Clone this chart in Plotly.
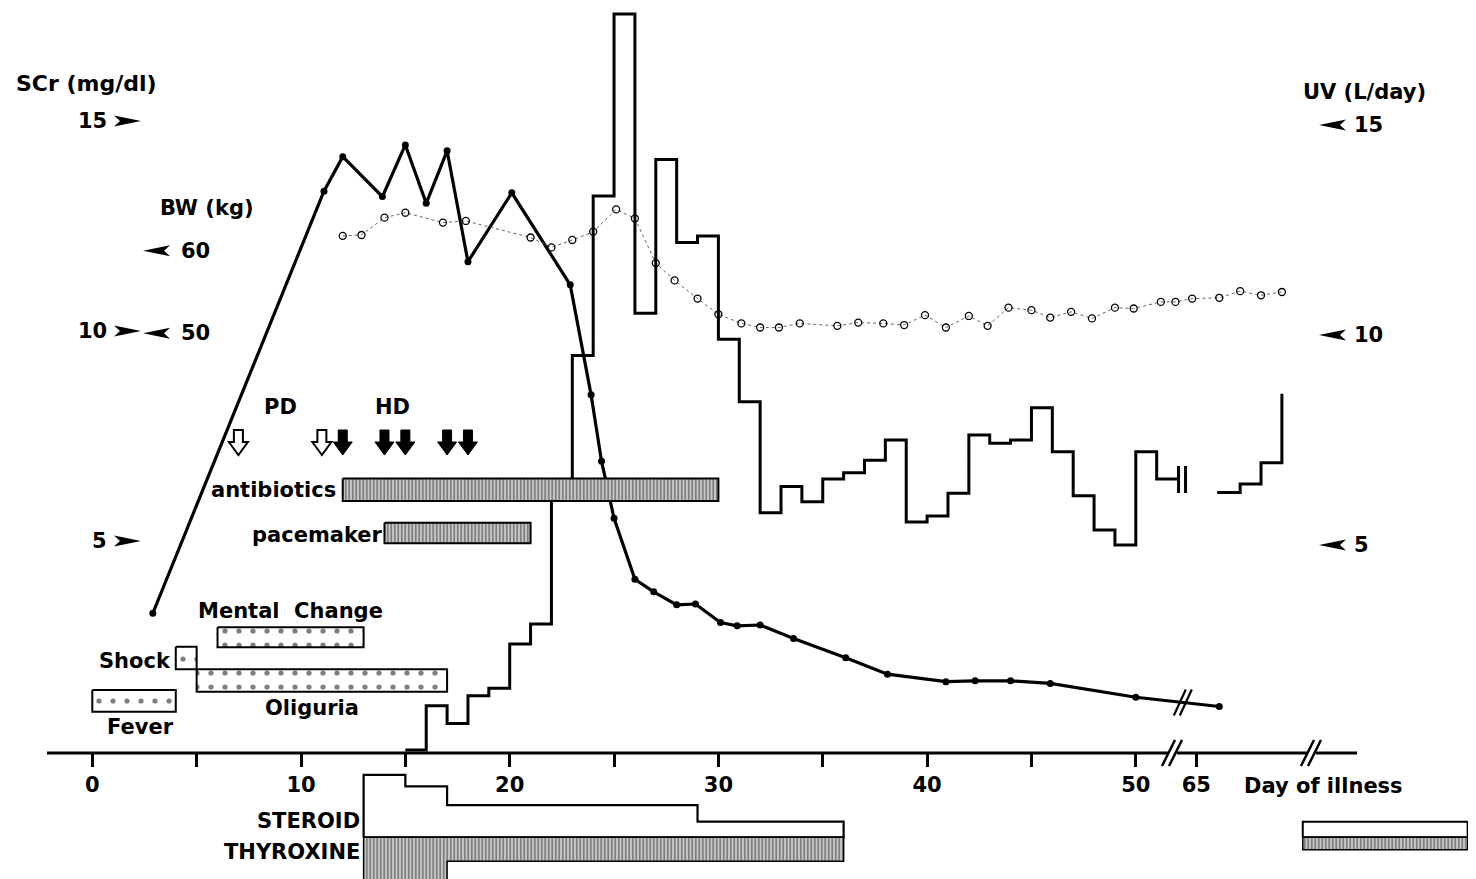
import plotly.graph_objects as go

# ------------------------------------------------------------------ data
# x values are days of illness as placed on the drawn (broken) day axis:
# positions right of the first break belong to the compressed "65" segment.
SCR_DAY = [2.9, 11.1, 12.0, 13.9, 15.0, 16.0, 17.0, 18.0, 20.1, 22.9,
           23.9, 24.4, 25.0, 26.0, 26.9, 28.0, 28.9, 30.1, 30.9, 32.0,
           33.6, 36.1, 38.1, 40.9, 42.3, 44.0, 45.9, 50.0, 54.0]
SCR = [3.28, 13.33, 14.15, 13.20, 14.43, 13.04, 14.29, 11.65, 13.29, 11.10,
       8.48, 6.90, 5.54, 4.09, 3.79, 3.48, 3.50, 3.06, 2.98, 3.00,
       2.68, 2.22, 1.83, 1.65, 1.67, 1.67, 1.61, 1.28, 1.06]

BW_DAY = [12.0, 12.9, 14.0, 15.0, 16.8, 17.9, 21.0, 22.0, 23.0, 24.0,
          25.1, 26.0, 27.0, 27.9, 29.0, 30.0, 31.1, 32.0, 32.9, 33.9,
          35.7, 36.7, 37.9, 38.9, 39.9, 40.9, 42.0, 42.9, 43.9, 45.0,
          45.9, 46.9, 47.9, 49.0, 49.9, 51.2, 51.9, 52.7, 54.0, 55.0,
          56.0, 57.0]
BW = [61.8, 61.9, 64.0, 64.6, 63.4, 63.6, 61.6, 60.4, 61.3, 62.3,
      65.0, 63.9, 58.5, 56.4, 54.2, 52.3, 51.2, 50.7, 50.7, 51.2,
      50.9, 51.3, 51.2, 51.0, 52.2, 50.7, 52.1, 50.9, 53.1, 52.8,
      51.9, 52.6, 51.8, 53.1, 53.0, 53.8, 53.8, 54.2, 54.3, 55.1,
      54.6, 55.0]

UV_DAY = [15, 16, 17, 18, 19, 20, 21, 22, 23, 24, 25, 26, 27, 28, 29, 30,
          31, 32, 33, 34, 35, 36, 37, 38, 39, 40, 41, 42, 43, 44, 45, 46,
          47, 48, 49, 50, 51, 52]
UV = [0.12, 1.17, 0.75, 1.41, 1.59, 2.64, 3.12, 6.43, 9.51, 13.31, 17.64,
      10.52, 14.18, 12.20, 12.36, 9.90, 8.41, 5.77, 6.39, 6.03, 6.57, 6.72,
      7.02, 7.50, 5.55, 5.69, 6.23, 7.62, 7.42, 7.50, 8.27, 7.22, 6.17,
      5.36, 5.00, 7.22, 6.57]
UV_LATE_DAY = [53.9, 55.0, 56.0, 57.0]
UV_LATE = [6.25, 6.45, 6.96, 8.60]

PD_DAYS = [7, 11]
HD_DAYS = [12, 14, 15, 17, 18]

FEVER = [0, 4]
SHOCK = [4, 5]
OLIGURIA = [5, 17]
MENTAL = [6, 13]
ANTIBIOTICS = [12, 30]
PACEMAKER = [14, 21]

STEROID_DAY = [13, 15, 17, 29, 36]
STEROID = [60, 49, 31, 15]
THYROXINE_DAY = [13, 17, 36]
THYROXINE = [50, 23]
LATE_RX_DAY = [58.0, 65.9]
LATE_STEROID = 15
LATE_THYROXINE = 12

X_TICKS = [0, 5, 10, 15, 20, 25, 30, 35, 40, 45, 50, 52.9]
X_TICK_TEXT = ['0', '', '10', '', '20', '', '30', '', '40', '', '50', '65']
SCR_TICKS = [5, 10, 15]
BW_TICKS = [50, 60]
UV_TICKS = [5, 10, 15]
AXIS_BREAKS = [51.83, 58.49]
SCR_BREAK = 52.3

# ------------------------------------------------------------------ geometry
# constants are screen pixels of the 1476x879 page; the page body has an
# 8 px margin, so the figure itself is 8 px smaller and offset by OFF.
OFF = 8
W, H = 1476 - OFF, 879 - OFF
FONT = "DejaVu Sans"
FS = 21
PX_DAY, X0 = 20.87, 92.3
AXIS_Y = 753
SCR0, SCR_PX = 751, 42.0
BW50, BW_PX = 333.3, 8.26
UV0, UV_PX = 755, 42.0
RX0, RX_PX = 837.3, 1.04


def px2day(sx):
    return (sx - X0) / PX_DAY


def py(sy):
    return 1 - (sy - OFF) / H


def px(sx):
    return (sx - OFF) / W


TOP, BOT = OFF, OFF + H
x_range = [px2day(OFF), px2day(OFF + W)]
scr_range = [(SCR0 - BOT) / SCR_PX, (SCR0 - TOP) / SCR_PX]
bw_range = [50 + (BW50 - BOT) / BW_PX, 50 + (BW50 - TOP) / BW_PX]
uv_range = [(UV0 - BOT) / UV_PX, (UV0 - TOP) / UV_PX]
rx_range = [(RX0 - BOT) / RX_PX, (RX0 - TOP) / RX_PX]

ROWS = {
    'antibiotics': (478.5, 501.0),
    'pacemaker': (522.7, 543.3),
    'mental': (627.3, 647.3),
    'shock': (646.7, 669.3),
    'oliguria': (669.3, 691.7),
    'fever': (690.0, 711.7),
}

HATCH = dict(shape='|', size=3.5, solidity=0.72, fgcolor='black', bgcolor='white')
STARS = dict(shape='.', size=14, solidity=0.11, fgcolor='black', bgcolor='white')

fig = go.Figure()


def poly(xs, ys, yaxis, pattern=None, lw=2.0):
    tr = go.Scatter(x=xs, y=ys, mode='lines', fill='toself', fillcolor='white',
                    line=dict(color='black', width=lw), yaxis=yaxis,
                    hoverinfo='skip', showlegend=False)
    if pattern:
        tr.fillpattern = pattern
    return tr


def box(span, row, yaxis, pattern, lw=2.0):
    y0, y1 = ROWS[row]
    x0, x1 = span
    return poly([x0, x1, x1, x0, x0], [y0, y0, y1, y1, y0], yaxis, pattern, lw)


# drug dose step blocks (below the axis)
sx, sy = [STEROID_DAY[0]], [0]
for i, v in enumerate(STEROID):
    sx += [STEROID_DAY[i], STEROID_DAY[i + 1]]
    sy += [v, v]
sx += [STEROID_DAY[-1], STEROID_DAY[0]]
sy += [0, 0]
fig.add_trace(poly(sx, sy, 'y4', None, 2.2))

tx, ty = [THYROXINE_DAY[0]], [0]
for i, v in enumerate(THYROXINE):
    tx += [THYROXINE_DAY[i], THYROXINE_DAY[i + 1]]
    ty += [-v, -v]
tx += [THYROXINE_DAY[-1], THYROXINE_DAY[0]]
ty += [0, 0]
fig.add_trace(poly(tx, ty, 'y4', HATCH, 1.5))

lx0, lx1 = LATE_RX_DAY
fig.add_trace(poly([lx0, lx1, lx1, lx0, lx0],
                   [0, 0, LATE_STEROID, LATE_STEROID, 0], 'y4', None, 2.0))
fig.add_trace(poly([lx0, lx1, lx1, lx0, lx0],
                   [0, 0, -LATE_THYROXINE, -LATE_THYROXINE, 0], 'y4', HATCH, 1.5))

# serum creatinine
fig.add_trace(go.Scatter(x=SCR_DAY, y=SCR, mode='lines+markers', yaxis='y',
                         line=dict(color='black', width=3.2),
                         marker=dict(size=7, color='black'),
                         hoverinfo='skip', showlegend=False))
# body weight
fig.add_trace(go.Scatter(x=BW_DAY, y=BW, mode='lines+markers', yaxis='y2',
                         line=dict(color='#666666', width=1, dash='dot'),
                         marker=dict(size=7, symbol='circle-open', color='black',
                                     line=dict(width=1.3, color='black')),
                         hoverinfo='skip', showlegend=False))
# urine volume
fig.add_trace(go.Scatter(x=UV_DAY, y=UV + [UV[-1]], mode='lines', line_shape='hv',
                         yaxis='y3', line=dict(color='black', width=3),
                         hoverinfo='skip', showlegend=False))
fig.add_trace(go.Scatter(x=UV_LATE_DAY, y=UV_LATE, mode='lines', line_shape='hv',
                         yaxis='y3', line=dict(color='black', width=3),
                         hoverinfo='skip', showlegend=False))

# clinical course bars
fig.add_trace(box(FEVER, 'fever', 'y5', STARS))
fig.add_trace(box(SHOCK, 'shock', 'y5', STARS))
fig.add_trace(box(OLIGURIA, 'oliguria', 'y5', STARS))
fig.add_trace(box(MENTAL, 'mental', 'y5', STARS))
fig.add_trace(box(ANTIBIOTICS, 'antibiotics', 'y5', HATCH))
fig.add_trace(box(PACEMAKER, 'pacemaker', 'y5', HATCH))

# ------------------------------------------------------------------ shapes
shapes = []


def pix_path(xref, xa, yref, ya, path, fill, lw=0.0, color='black'):
    return dict(type='path', xref=xref, yref=yref, xsizemode='pixel',
                ysizemode='pixel', xanchor=xa, yanchor=ya, path=path,
                fillcolor=fill, line=dict(color=color, width=lw), layer='above')


RIGHT_ARROW = 'M0,0 L-27,5.5 L-21,0 L-27,-5.5 Z'
LEFT_ARROW = 'M0,0 L27,5.5 L21,0 L27,-5.5 Z'
BLOCK_ARROW = 'M0,0 L-9.5,13 L-4.5,13 L-4.5,25 L4.5,25 L4.5,13 L9.5,13 Z'
SLASHES = 'M-12,-13 L1,13 M-5,-13 L8,13'

# day axis line
shapes.append(dict(type='line', xref='x', yref='paper', x0=px2day(47), x1=px2day(1357),
                   y0=py(AXIS_Y), y1=py(AXIS_Y), line=dict(color='black', width=3)))
for b in AXIS_BREAKS:
    shapes.append(dict(type='rect', xref='x', yref='paper', xsizemode='pixel',
                       ysizemode='pixel', xanchor=b, yanchor=py(AXIS_Y),
                       x0=-5, x1=3, y0=-3, y1=3, fillcolor='white',
                       line=dict(width=0), layer='above'))
    shapes.append(pix_path('x', b, 'paper', py(AXIS_Y), SLASHES, 'rgba(0,0,0,0)', 2.5))
# break on the SCr line
scr_b = SCR[-2] + (SCR[-1] - SCR[-2]) * (SCR_BREAK - SCR_DAY[-2]) / (SCR_DAY[-1] - SCR_DAY[-2])
shapes.append(pix_path('x', SCR_BREAK, 'y', scr_b, 'M-10,-13 L2,13 M-4,-13 L8,13',
                       'rgba(0,0,0,0)', 2.2))
# end marks of the UV record
shapes.append(pix_path('x', UV_DAY[-1], 'y3', UV[-1], 'M1,-14 L1,13 M8,-14 L8,13',
                       'rgba(0,0,0,0)', 3))

# scale arrows
for v in SCR_TICKS:
    shapes.append(pix_path('paper', px(141), 'y', v, RIGHT_ARROW, 'black'))
for v in BW_TICKS:
    shapes.append(pix_path('paper', px(143), 'y2', v, LEFT_ARROW, 'black'))
for v in UV_TICKS:
    shapes.append(pix_path('paper', px(1319), 'y3', v, LEFT_ARROW, 'black'))

# dialysis arrows
for d in PD_DAYS:
    shapes.append(pix_path('x', d, 'paper', py(455), BLOCK_ARROW, 'white', 2.0))
for d in HD_DAYS:
    shapes.append(pix_path('x', d, 'paper', py(455), BLOCK_ARROW, 'black', 1.0))

# ------------------------------------------------------------------ text
ann = []


def text(t, x, y, xref='paper', yref='paper', xanchor='center', xshift=0, size=FS):
    ann.append(dict(text=t, x=x, y=y, xref=xref, yref=yref, xanchor=xanchor,
                    yanchor='middle', showarrow=False, xshift=xshift,
                    font=dict(family=FONT, size=size, color='black', weight='bold')))


text('SCr (mg/dl)', px(86), py(84), size=22)
text('BW (kg)', px(207), py(208))
text('UV (L/day)', px(1364), py(92))
for v in SCR_TICKS:
    text(str(v), px(109), v, yref='y', xanchor='right')
for v in BW_TICKS:
    text(str(v), px(179), v, yref='y2', xanchor='left')
for v in UV_TICKS:
    text(str(v), px(1352), v, yref='y3', xanchor='left')

text('PD', sum(PD_DAYS) / len(PD_DAYS), py(407), xref='x')
text('HD', 14.4, py(407), xref='x')
text('antibiotics', ANTIBIOTICS[0], sum(ROWS['antibiotics']) / 2, xref='x', yref='y5',
     xanchor='right', xshift=-5)
text('pacemaker', PACEMAKER[0], sum(ROWS['pacemaker']) / 2 + 2, xref='x', yref='y5',
     xanchor='right', xshift=1)
text('Mental  Change', sum(MENTAL) / 2, 611, xref='x', yref='y5')
text('Shock', SHOCK[0], 661, xref='x', yref='y5', xanchor='right', xshift=-3)
text('Oliguria', sum(OLIGURIA) / 2, 708, xref='x', yref='y5', xshift=-10)
text('Fever', sum(FEVER) / 2, 727, xref='x', yref='y5', xshift=6)
text('STEROID', STEROID_DAY[0], py(821), xref='x', xanchor='right', xshift=-2)
text('THYROXINE', THYROXINE_DAY[0], py(852), xref='x', xanchor='right', xshift=-2)
text('Day of illness', px(1323), py(786))

fig.update_layout(
    width=W, height=H, margin=dict(l=0, r=0, t=0, b=0),
    paper_bgcolor='white', plot_bgcolor='white', showlegend=False,
    font=dict(family=FONT, size=FS, color='black'),
    xaxis=dict(range=x_range, anchor='free', position=py(AXIS_Y), showline=False,
               showgrid=False, zeroline=False, ticks='outside', ticklen=13,
               tickwidth=3, tickcolor='black', tickvals=X_TICKS, ticktext=X_TICK_TEXT,
               tickfont=dict(family=FONT, size=FS, color='black', weight='bold'),
               fixedrange=True),
    yaxis=dict(range=scr_range, visible=False, fixedrange=True),
    yaxis2=dict(range=bw_range, overlaying='y', visible=False, fixedrange=True),
    yaxis3=dict(range=uv_range, overlaying='y', visible=False, fixedrange=True),
    yaxis4=dict(range=rx_range, overlaying='y', visible=False, fixedrange=True),
    yaxis5=dict(range=[BOT, TOP], overlaying='y', visible=False, fixedrange=True),
    shapes=shapes, annotations=ann,
)

fig.write_html("out.html")
